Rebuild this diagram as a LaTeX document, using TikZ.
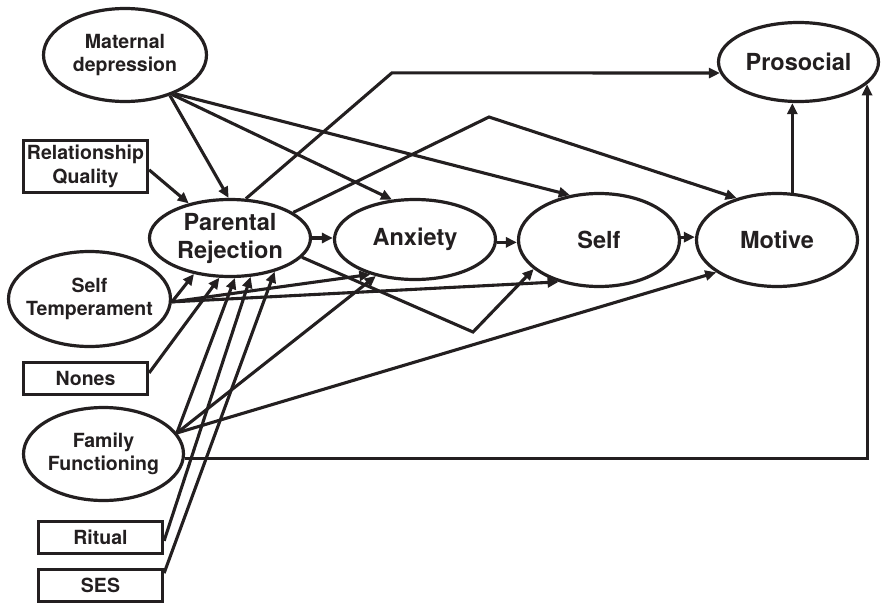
\documentclass[tikz,border=0pt]{standalone}
\usepackage{fontspec}
\setmainfont{TeX Gyre Heros}
\usetikzlibrary{arrows.meta,shapes.geometric}
\definecolor{ink}{HTML}{231F20}
\begin{document}
\begin{tikzpicture}[x=1pt,y=-1pt,
  every node/.style={inner sep=0pt, outer sep=0pt},
  oval/.style={ellipse, draw=ink, line width=3.2pt, fill=white, outer sep=1.6pt},
  box/.style={rectangle, draw=ink, line width=3.2pt, fill=white, outer sep=1.6pt,
    minimum width=124pt},
  small/.style={font=\bfseries\fontsize{19.5}{23.5}\selectfont, align=center, text=ink},
  big/.style={font=\bfseries\fontsize{23.5}{28}\selectfont, align=center, text=ink},
  link/.style={draw=ink, line width=3.1pt, line join=miter,
    -{Triangle[length=11pt,width=10pt]}},
]
\useasboundingbox (0,0) rectangle (881,605);

% latent variables
\node[oval, minimum width=163pt, minimum height=93pt] (md)   at (125,55)    {};
\node[oval, minimum width=161pt, minimum height=77pt] (pr)   at (230,238)   {};
\node[oval, minimum width=161pt, minimum height=80pt] (anx)  at (415,239.5) {};
\node[oval, minimum width=161pt, minimum height=93pt] (self) at (599,240)   {};
\node[oval, minimum width=161pt, minimum height=93pt] (mot)  at (777,240)   {};
\node[oval, minimum width=160pt, minimum height=79pt] (pro)  at (798.5,62)  {};
\node[oval, minimum width=162pt, minimum height=95pt] (st)   at (89.5,299)  {};
\node[oval, minimum width=160pt, minimum height=93pt] (ff)   at (103.5,454) {};

% observed covariates
\node[box, minimum height=52pt] (rq)     at (85.5,166.5)  {};
\node[box, minimum height=32pt] (nones)  at (85.5,378.5)  {};
\node[box, minimum height=32pt] (ritual) at (100.5,537.5) {};
\node[box, minimum height=32pt] (ses)    at (100.5,585.5) {};

% labels
\node[small] (md-t)     at (md)     {Maternal\\depression};
\node[big]   (pr-t)     at (pr)     {Parental\\Rejection};
\node[big]   (anx-t)    at (anx)    {Anxiety};
\node[big]   (self-t)   at (self)   {Self};
\node[big]   (mot-t)    at (mot)    {Motive};
\node[big]   (pro-t)    at (pro)    {Prosocial};
\node[small] (st-t)     at (st)     {Self\\Temperament};
\node[small] (ff-t)     at (ff)     {Family\\Functioning};
\node[small] (rq-t)     at (rq)     {Relationship\\Quality};
\node[small] (nones-t)  at (nones)  {Nones};
\node[small] (ritual-t) at (ritual) {Ritual};
\node[small] (ses-t)    at (ses)    {SES};

% bend points of the routed paths
\coordinate (c1) at (392,72.8);
\coordinate (c2) at (489,117);
\coordinate (c3) at (473,332);

% maternal depression
\draw[link] (md.-42) -- (pr.92);
\draw[link] (md.-40) -- (anx.120);
\draw[link] (md.-38) -- (self.123);

% relationship quality
\draw[link] (rq.-3) -- (pr.140);

% main chain
\draw[link] (pr.east) -- (pr.east -| anx.west);
\draw[link] (anx.-2) -- (anx.-2 -| self.west);
\draw[link] (self.2) -- (self.2 -| mot.west);
\draw[link] (mot.72) -- (mot.72 |- pro.south);

% routed paths from parental rejection
\draw[link] (pr.68) -- (c1) -- (pro.-172);
\draw[link] (pr.22) -- (c2) -- (mot.134);
\draw[link] (pr.-15) -- (c3) -- (self.-156);

% self temperament
\draw[link] (st.-2) -- (pr.-135);
\draw[link] (st.-2) -- (anx.-142);
\draw[link] (st.-2) -- (self.-134);

% nones, ritual, SES
\draw[link] (nones.5) -- (pr.-105);
\draw[link] (ritual.-3) -- (pr.-62);
\draw[link] (ses.11) -- (pr.-37);

% family functioning
\draw[link] (ff.16) -- (pr.-83);
\draw[link] (ff.16) -- (anx.-137);
\draw[link] (ff.16) -- (mot.-152);
\draw[link] (ff.-3) -| (pro.-18);
\end{tikzpicture}
\end{document}
